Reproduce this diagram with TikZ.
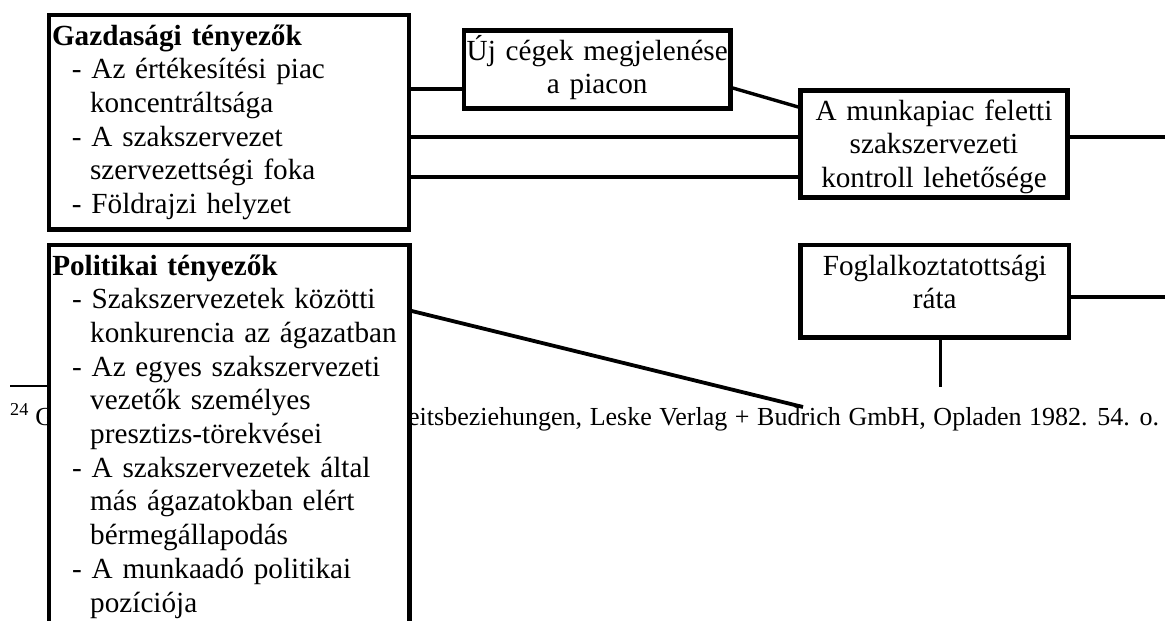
\documentclass[tikz,border=0pt]{standalone}
\usepackage{fontspec}
\setmainfont{Liberation Serif}
\begin{document}
\begin{tikzpicture}[x=1pt,y=-1pt,
  tbox/.style={draw, line width=4.5pt, fill=white, inner sep=0pt, align=center,
    font=\fontsize{29.2}{33.7}\selectfont},
  lbox/.style={tbox, align=left},
  link/.style={line width=3.4pt},
  notefont/.style={font=\fontsize{26}{30}\selectfont, inner sep=0pt}]
\useasboundingbox (0,0) rectangle (1165,621);
\clip (0,0) rectangle (1165,621);

% footnote underneath the diagram
\draw[line width=1.6pt] (10,386) -- (260,386);
\node[notefont, anchor=base west] (noteA) at (10,425) {\textsuperscript{24} G};
\node[notefont, anchor=base west] (noteB) at (408,425)
  {\spaceskip=7.6pt eitsbeziehungen, Leske Verlag + Budrich GmbH, Opladen 1982. 54. o.};

% factor boxes
\node[lbox, minimum width=360pt, minimum height=214.5pt, text width=354pt,
      text height=10pt, text depth=164.5pt] (gazd) at (229,122.25)
  {\textbf{Gazdasági tényezők}\\
   \hspace*{20pt}- Az értékesítési piac\\
   \hspace*{38pt}koncentráltsága\\
   \hspace*{20pt}- A szakszervezet\\
   \hspace*{38pt}szervezettségi foka\\
   \hspace*{20pt}- Földrajzi helyzet};

\node[lbox, minimum width=360.5pt, minimum height=455pt, text width=354pt,
      text height=10pt, text depth=405pt] (pol) at (229.25,472.5)
  {\textbf{Politikai tényezők}\\
   \hspace*{20pt}- Szakszervezetek közötti\\
   \hspace*{38pt}konkurencia az ágazatban\\
   \hspace*{20pt}- Az egyes szakszervezeti\\
   \hspace*{38pt}vezetők személyes\\
   \hspace*{38pt}presztizs-törekvései\\
   \hspace*{20pt}- A szakszervezetek által\\
   \hspace*{38pt}más ágazatokban elért\\
   \hspace*{38pt}bérmegállapodás\\
   \hspace*{20pt}- A munkaadó politikai\\
   \hspace*{38pt}pozíciója};

\node[tbox, minimum width=266.5pt, minimum height=78pt, text width=266.5pt,
      text height=10pt, text depth=29pt] (uj) at (597.25,69.5)
  {Új cégek megjelenése\\a piacon};

\node[tbox, minimum width=267pt, minimum height=107pt, text width=267pt,
      text height=10pt, text depth=58pt] (munka) at (934,144)
  {A munkapiac feletti\\szakszervezeti\\kontroll lehetősége};

\node[tbox, minimum width=268.5pt, minimum height=92.5pt, text width=268.5pt,
      text height=10pt, text depth=42.5pt] (fog) at (934.75,291.25)
  {Foglalkoztatottsági\\ráta};

% free ends of the outgoing connectors
\coordinate (munkaOut) at (1172,137);
\coordinate (fogOut) at (1172,297);
\coordinate (fogEnd) at (940.5,386.5);
\coordinate (polEnd) at (803,407);

% connectors
\draw[link] (gazd.east |- 0,89) -- (uj.west |- 0,89);
\draw[link] (uj.east |- 0,88) -- (munka.west |- 0,107);
\draw[link] (gazd.east |- 0,137) -- (munka.west |- 0,137);
\draw[link] (gazd.east |- 0,177) -- (munka.west |- 0,177);
\draw[link] (munka.east |- 0,137) -- (munkaOut);
\draw[link] (fog.east |- 0,297) -- (fogOut);
\draw[link] (fog.south -| fogEnd) -- (fogEnd);
\draw[link, line width=3.8pt] (pol.east |- 0,311) -- (polEnd);
\end{tikzpicture}
\end{document}
